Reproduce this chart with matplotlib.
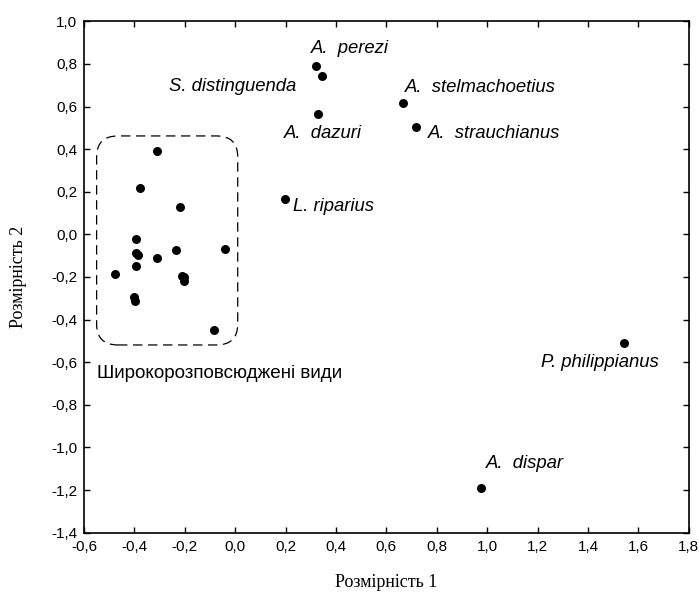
import matplotlib
matplotlib.use("Agg")
import matplotlib.pyplot as plt
from matplotlib.patches import FancyBboxPatch
from matplotlib.ticker import MultipleLocator, FuncFormatter

# unlabelled points (widespread species)
wide_x = [-0.312, -0.377, -0.218, -0.394, -0.395, -0.386, -0.312, -0.235, -0.039,
          -0.394, -0.478, -0.212, -0.202, -0.204, -0.401, -0.399, -0.084]
wide_y = [0.390, 0.218, 0.129, -0.022, -0.088, -0.095, -0.112, -0.075, -0.067,
          -0.148, -0.187, -0.194, -0.217, -0.198, -0.296, -0.312, -0.449]

# labelled points
names = ["A.  perezi", "S. distinguenda", "A.  dazuri", "A.  stelmachoetius",
         "A.  strauchianus", "L. riparius", "P. philippianus", "A.  dispar"]
sp_x = [0.322, 0.343, 0.330, 0.666, 0.716, 0.196, 1.542, 0.977]
sp_y = [0.790, 0.742, 0.564, 0.617, 0.504, 0.165, -0.510, -1.191]

# label offsets (points) and alignment
offsets = [(-4, 13, "left"), (-18, -7.5, "right"), (-25, -14, "left"), (1.5, 11, "left"),
           (9, -5, "left"), (6, -5.5, "left"), (25, -14, "right"), (3.5, 17.5, "left")]

plt.rcParams['font.family'] = ['Liberation Sans', 'DejaVu Sans']

fig = plt.figure(figsize=(6.99, 5.92), dpi=100)
ax = fig.add_axes([0.1202, 0.1002, 0.8651, 0.8638])

ax.scatter(wide_x, wide_y, s=42, color='black', zorder=3, linewidths=0)
ax.scatter(sp_x, sp_y, s=42, color='black', zorder=3, linewidths=0)

for nm, x, y, (dx, dy, ha) in zip(names, sp_x, sp_y, offsets):
    ax.annotate(nm, (x, y), xytext=(dx, dy), textcoords='offset points',
                ha=ha, va='center', fontsize=13.3, style='italic')

# dashed rounded box around widespread species
box = FancyBboxPatch((-0.550, -0.519), 0.560, 0.981,
                     boxstyle="round,pad=0,rounding_size=0.085",
                     mutation_aspect=1.15, fill=False, edgecolor='black',
                     linewidth=0.9, linestyle=(0, (7.5, 4.5)), zorder=2)
ax.add_patch(box)
ax.text(-0.550, -0.655, "Широкорозповсюджені види", ha='left', va='center', fontsize=13.6)

ax.set_xlim(-0.6, 1.8)
ax.set_ylim(-1.4, 1.0)
ax.xaxis.set_major_locator(MultipleLocator(0.2))
ax.yaxis.set_major_locator(MultipleLocator(0.2))
comma = FuncFormatter(lambda v, p: f"{v:.1f}".replace(".", ",").replace("-0,0", "0,0"))
ax.xaxis.set_major_formatter(comma)
ax.yaxis.set_major_formatter(comma)
ax.tick_params(direction='in', top=True, right=True, length=4, width=1,
               labelsize=11, pad=5)
for sp in ax.spines.values():
    sp.set_linewidth(1.2)

ax.set_xlabel("Розмірність 1", family='Liberation Serif', fontsize=13, labelpad=15)
ax.set_ylabel("Розмірність 2", family='Liberation Serif', fontsize=13, labelpad=17)

fig.savefig("out.png", dpi=100)
